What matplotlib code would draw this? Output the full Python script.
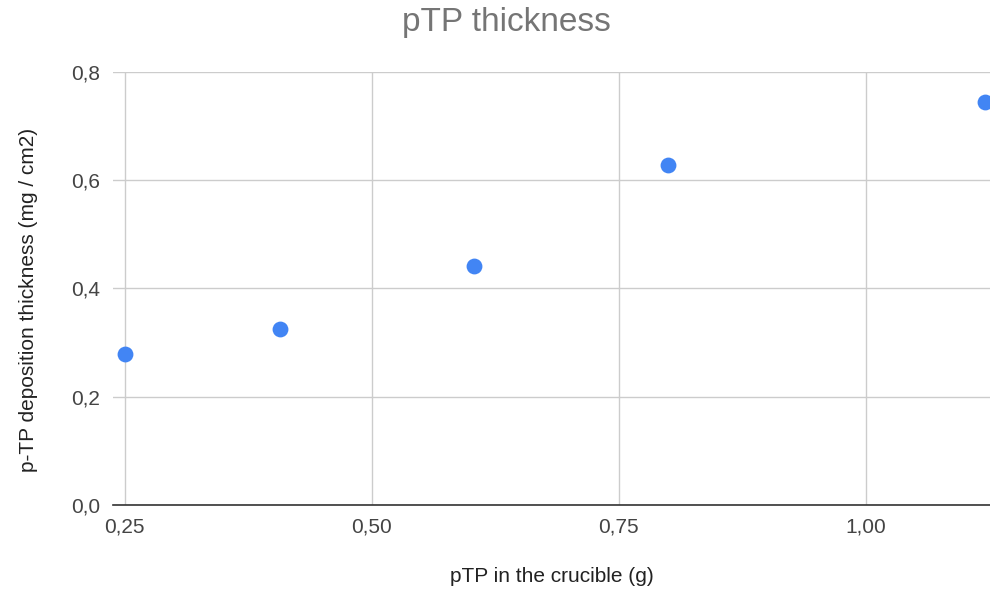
import matplotlib.pyplot as plt
from matplotlib.ticker import FuncFormatter

plt.rcParams['font.family'] = ['Liberation Sans', 'DejaVu Sans']

# data
ptp_mass = [0.25, 0.407, 0.603, 0.800, 1.120]
thickness = [0.279, 0.325, 0.441, 0.628, 0.745]

x_ticks = [0.25, 0.50, 0.75, 1.00]
y_ticks = [0.0, 0.2, 0.4, 0.6, 0.8]

fig = plt.figure(figsize=(9.9, 5.91), dpi=100)
ax = fig.add_axes([0.114, 0.1455, 0.886, 0.733])

ax.scatter(ptp_mass, thickness, s=130, color='#4285F4', zorder=3, linewidths=0)

ax.set_xlim(0.238, 1.1255)
ax.set_ylim(0.0, 0.8)
ax.set_xticks(x_ticks)
ax.set_yticks(y_ticks)
ax.xaxis.set_major_formatter(FuncFormatter(lambda v, p: f'{v:.2f}'.replace('.', ',')))
ax.yaxis.set_major_formatter(FuncFormatter(lambda v, p: f'{v:.1f}'.replace('.', ',')))

ax.grid(True, color='#cccccc', linewidth=1)
ax.set_axisbelow(True)
for side in ['left', 'right', 'top']:
    ax.spines[side].set_visible(False)
ax.spines['bottom'].set_color('#333333')
ax.spines['bottom'].set_linewidth(1.2)
ax.spines['bottom'].set_zorder(4)
ax.tick_params(length=0, labelsize=15, labelcolor='#444444')
ax.tick_params(axis='x', pad=9)
ax.tick_params(axis='y', pad=9)

ax.set_xlabel('pTP in the crucible (g)', fontsize=15, color='#222222', labelpad=22)
ax.set_ylabel('p-TP deposition thickness (mg / cm2)', fontsize=15, color='#222222', labelpad=24)
ax.yaxis.label.set_y(0.473)
fig.text(0.512, 0.962, 'pTP thickness', ha='center', va='center', fontsize=24, color='#757575')

plt.savefig('out.png', dpi=100)
